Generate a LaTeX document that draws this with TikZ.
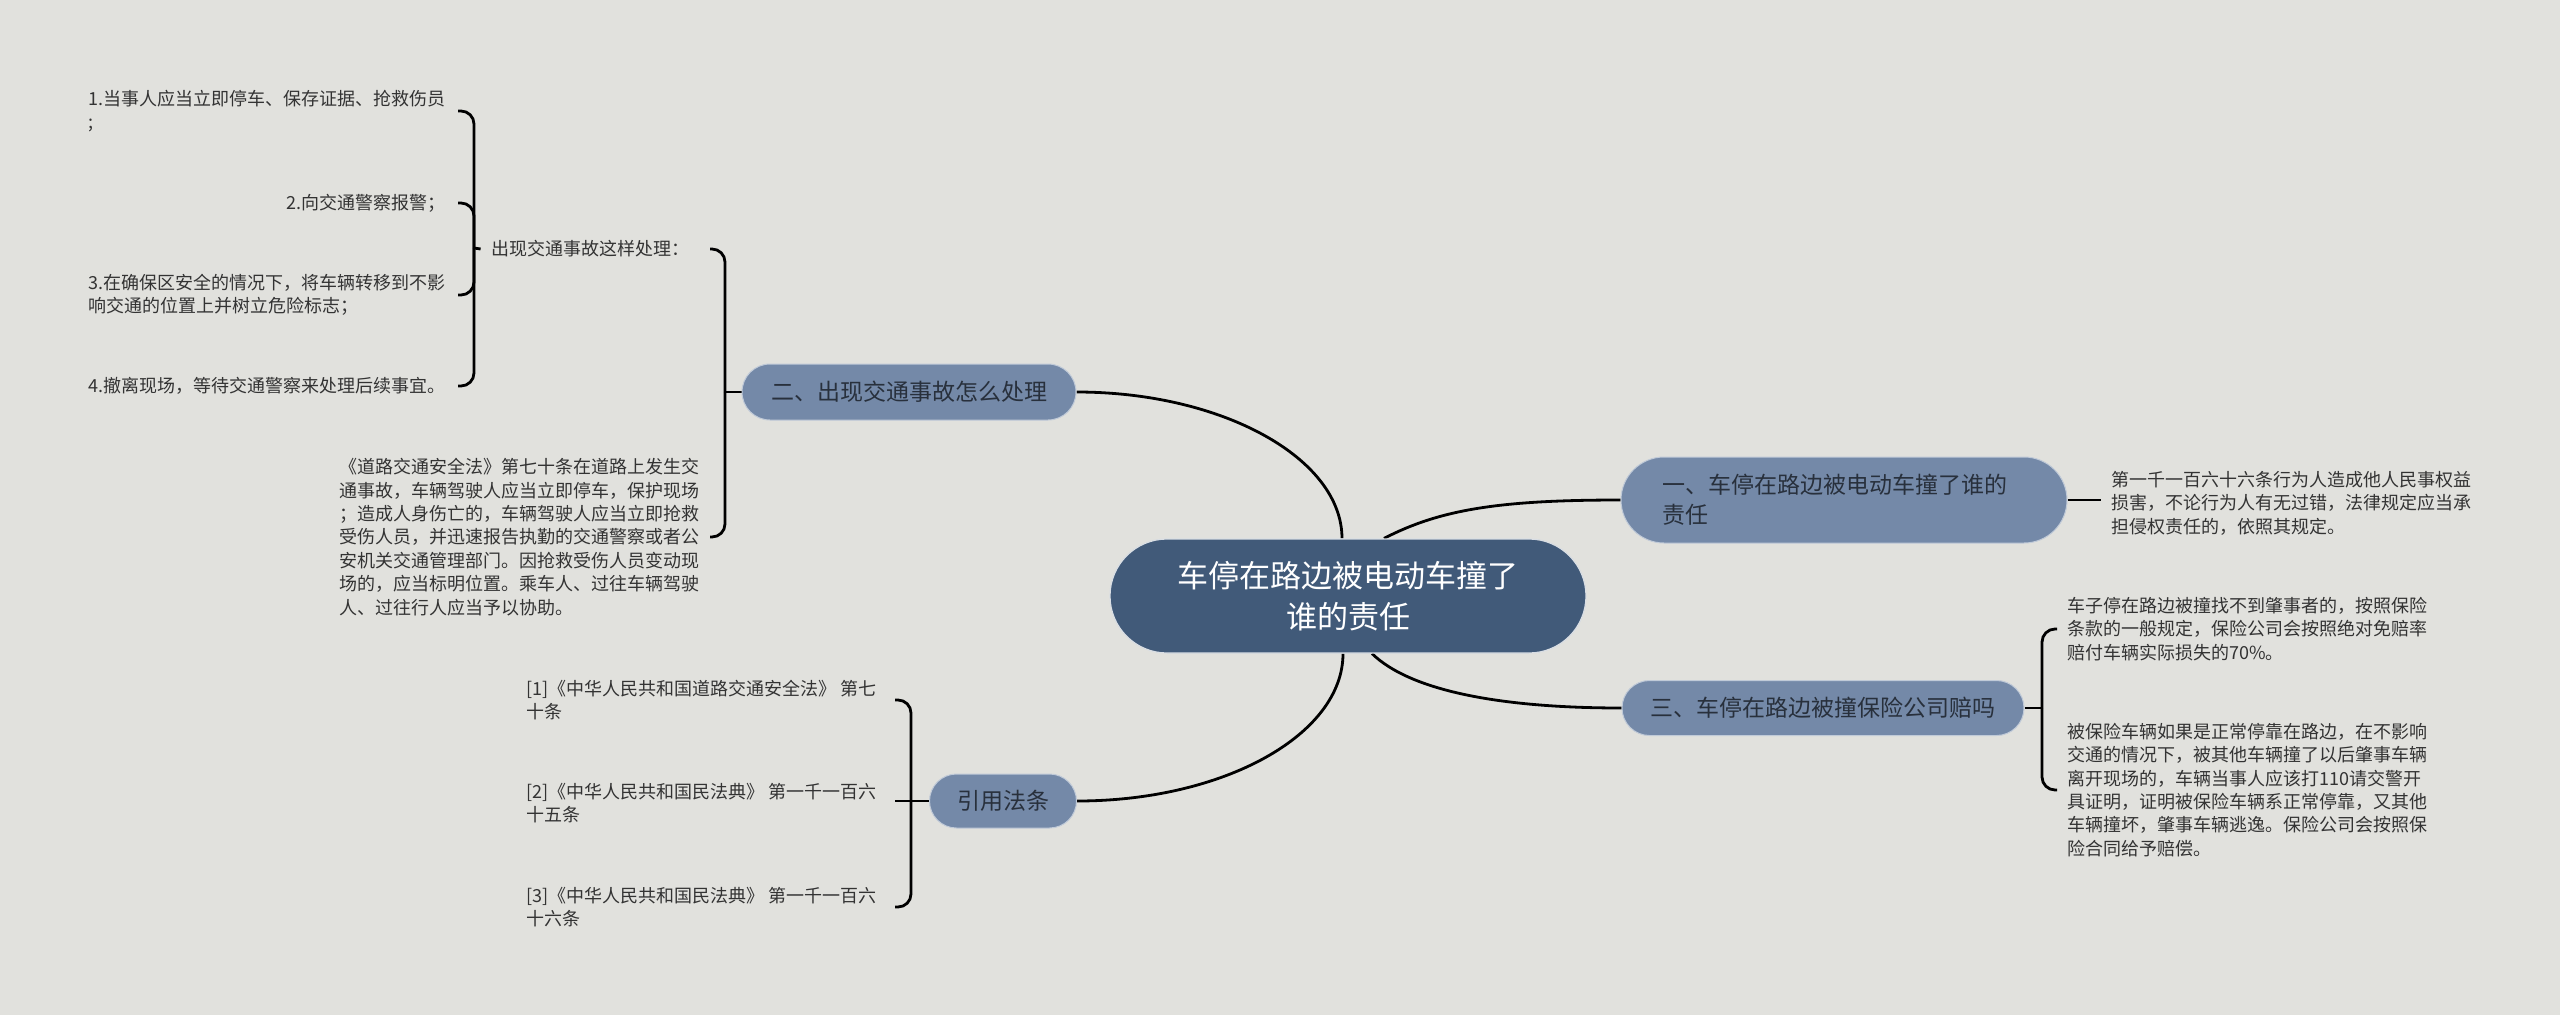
\documentclass[tikz,border=0pt]{standalone}
\usepackage{fontspec}
\setmainfont{Noto Sans CJK SC}
\definecolor{bgcol}{HTML}{E1E1DD}
\definecolor{rootfill}{HTML}{415A79}
\definecolor{mainfill}{HTML}{7489A8}
\definecolor{maintext}{HTML}{28303C}
\definecolor{leaftext}{HTML}{333333}
\pgfdeclarelayer{bglayer}
\pgfdeclarelayer{edges}
\pgfsetlayers{bglayer,edges,main}
\begin{document}
\begin{tikzpicture}[x=1pt,y=-1pt,
  root/.style={draw=white!80!rootfill,line width=1.2pt,fill=rootfill,text=white,rounded corners=57pt,
    minimum width=476pt,minimum height=114pt,align=center,font=\fontsize{31}{41}\selectfont,inner sep=0pt},
  topic/.style={draw=white!55!mainfill,line width=1pt,fill=mainfill,text=maintext,
    font=\fontsize{23}{30}\selectfont,inner sep=0pt},
  leaf/.style={text=leaftext,font=\fontsize{18}{23.4}\selectfont,align=left,inner xsep=10pt,inner ysep=2pt},
  conn/.style={line width=2.8pt,draw=black},
  brk/.style={line width=2.8pt,draw=black,rounded corners=13pt},
]
\begin{pgfonlayer}{bglayer}
\fill[bgcol] (0,0) rectangle (2560,1015);
\end{pgfonlayer}
\useasboundingbox (0,0) rectangle (2560,1015);

% root and main topics
\node[root] (root) at (1348,596) {车停在路边被电动车撞了\\谁的责任};
\node[topic,minimum width=334pt,minimum height=56pt,rounded corners=28pt] (t2) at (909,392) {二、出现交通事故怎么处理};
\node[topic,minimum width=147pt,minimum height=54pt,rounded corners=27pt] (tref) at (1003,801) {引用法条};
\node[topic,minimum width=446pt,minimum height=86pt,rounded corners=43pt,text width=364pt,align=left,inner xsep=41pt] (t1) at (1844,500) {一、车停在路边被电动车撞了谁的\\责任};
\node[topic,minimum width=402pt,minimum height=55pt,rounded corners=27.5pt] (t3) at (1823,708) {三、车停在路边被撞保险公司赔吗};

% right leaves
\node[leaf,anchor=west] (l1) at (2101,503) {第一千一百六十六条行为人造成他人民事权益\\损害，不论行为人有无过错，法律规定应当承\\担侵权责任的，依照其规定。};
\coordinate (j3) at (2042,708);
\node[leaf,anchor=west] (l31) at (2057,629) {车子停在路边被撞找不到肇事者的，按照保险\\条款的一般规定，保险公司会按照绝对免赔率\\赔付车辆实际损失的70\%。};
\node[leaf,anchor=west] (l32) at (2057,790) {被保险车辆如果是正常停靠在路边，在不影响\\交通的情况下，被其他车辆撞了以后肇事车辆\\离开现场的，车辆当事人应该打110请交警开\\具证明，证明被保险车辆系正常停靠，又其他\\车辆撞坏，肇事车辆逃逸。保险公司会按照保\\险合同给予赔偿。};

% left: branch two
\coordinate (j2) at (725,392);
\node[leaf,anchor=east,inner xsep=11pt] (chu) at (701,249) {出现交通事故这样处理：};
\node[leaf,anchor=east] (law) at (710,537) {《道路交通安全法》第七十条在道路上发生交\\通事故，车辆驾驶人应当立即停车，保护现场\\；造成人身伤亡的，车辆驾驶人应当立即抢救\\受伤人员，并迅速报告执勤的交通警察或者公\\安机关交通管理部门。因抢救受伤人员变动现\\场的，应当标明位置。乘车人、过往车辆驾驶\\人、过往行人应当予以协助。};
\coordinate (jc) at (474,248);
\node[leaf,anchor=east,inner xsep=12pt] (c1) at (458,111) {1.当事人应当立即停车、保存证据、抢救伤员\\;};
\node[leaf,anchor=east,inner xsep=12pt] (c2) at (458,203) {2.向交通警察报警；};
\node[leaf,anchor=east,inner xsep=12pt] (c3) at (458,295) {3.在确保区安全的情况下，将车辆转移到不影\\响交通的位置上并树立危险标志；};
\node[leaf,anchor=east,inner xsep=12pt] (c4) at (458,386) {4.撤离现场，等待交通警察来处理后续事宜。};

% left: references
\coordinate (jr) at (911,801);
\node[leaf,anchor=east,inner xsep=18pt] (r1) at (895,700) {[1]《中华人民共和国道路交通安全法》 第七\\十条};
\node[leaf,anchor=east,inner xsep=18pt] (r2) at (895,803) {[2]《中华人民共和国民法典》 第一千一百六\\十五条};
\node[leaf,anchor=east,inner xsep=18pt] (r3) at (895,907) {[3]《中华人民共和国民法典》 第一千一百六\\十六条};

\begin{pgfonlayer}{edges}
% root connectors
\draw[conn] ([xshift=-6pt]root.north) .. controls +(0,-80) and +(146,0) .. (t2.east);
\draw[conn] ([xshift=-5pt]root.south) .. controls +(0,81) and +(147,0) .. (tref.east);
\draw[conn] ([xshift=36pt]root.north) .. controls +(56,-29) and +(-121,0) .. (t1.west);
\draw[conn] ([xshift=24pt]root.south) .. controls +(38,37) and +(-122,0) .. (t3.west);
% branch one
\draw[conn] (t1.east) -- (t1.east -| l1.west);
% branch three
\draw[conn] (t3.east) -- (j3);
\draw[brk] (j3) |- (l31.west);
\draw[brk] (j3) |- (l32.west);
% branch two
\draw[conn] (t2.west) -- (j2);
\draw[brk] (j2) |- ([xshift=9pt]chu.east);
\draw[brk] (j2) |- (law.east);
\draw[conn] (chu.west) -- (jc);
\draw[brk] (jc) |- (c1.east);
\draw[brk] (jc) |- (c2.east);
\draw[brk] (jc) |- (c3.east);
\draw[brk] (jc) |- (c4.east);
% references
\draw[conn] (tref.west) -- (tref.west -| r2.east);
\draw[brk] (jr) |- (r1.east);
\draw[brk] (jr) |- (r3.east);
\end{pgfonlayer}
\end{tikzpicture}
\end{document}
